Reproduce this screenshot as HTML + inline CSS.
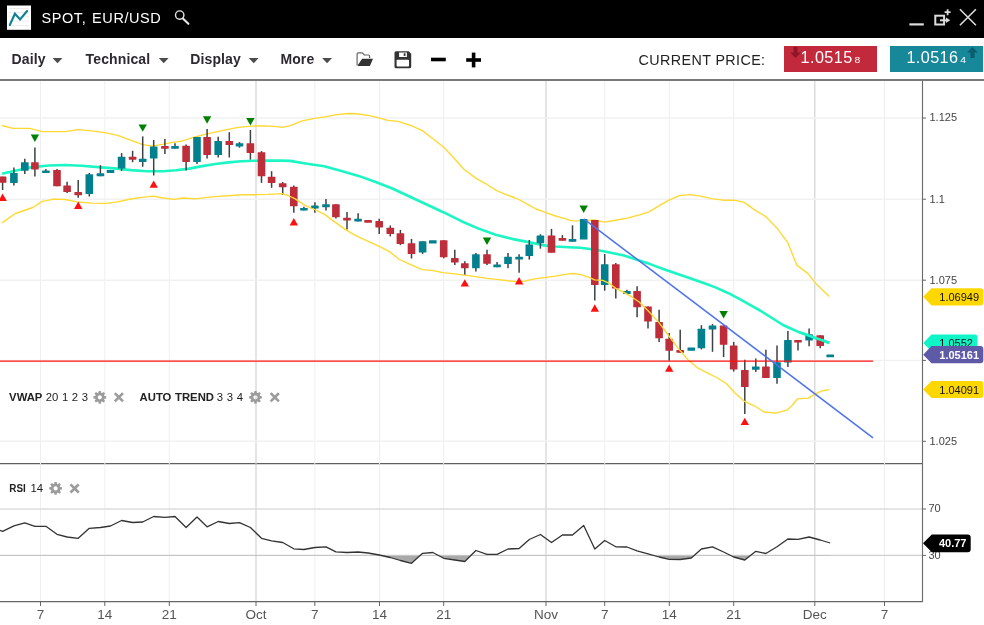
<!DOCTYPE html>
<html><head><meta charset="utf-8"><title>SPOT, EUR/USD</title>
<style>
html,body{margin:0;padding:0;background:#fff;}
body{width:984px;height:625px;overflow:hidden;position:relative;font-family:"Liberation Sans",sans-serif;}
#hdr{position:absolute;left:0;top:0;width:984px;height:37.5px;background:#000;}
#hdr .title{position:absolute;left:41.5px;top:10.1px;color:#fff;font-size:14.5px;letter-spacing:0.58px;word-spacing:1.2px;line-height:16px;white-space:nowrap;}
#tb{position:absolute;left:0;top:37.5px;width:984px;height:41px;background:#fff;}
.mi{position:absolute;top:13.2px;font-size:14px;letter-spacing:0.12px;font-weight:bold;color:#2e2830;line-height:17px;white-space:nowrap;}
.car{position:absolute;top:20px;width:10.8px;height:5.8px;background:#4c4c4c;clip-path:polygon(0 0,100% 0,50% 100%);}
.cp{position:absolute;left:638.6px;top:14.4px;font-size:14.3px;letter-spacing:0.4px;color:#222;line-height:17px;white-space:nowrap;}
.pb{position:absolute;top:8.2px;height:26.2px;color:#fff;font-size:16.2px;letter-spacing:0.42px;line-height:23px;white-space:nowrap;}
.pb small{display:inline-block;font-size:10.4px;letter-spacing:0;margin-left:1.9px;transform:scaleY(.84);transform-origin:50% 64%;}
svg text{font-family:"Liberation Sans",sans-serif;}
.ax{font-size:11px;fill:#444;}
.xl{font-size:13.5px;fill:#555;}
.tg{font-size:11px;}
.lg{font-size:11.3px;fill:#222;word-spacing:0.5px;}
</style></head><body>
<div id="hdr">
<svg width="984" height="38" style="position:absolute;left:0;top:0">
<rect x="7" y="5.5" width="24" height="24.3" fill="#fff"/>
<g stroke="#ececec" stroke-width="1"><line x1="9" y1="8.5" x2="29" y2="8.5"/><line x1="9" y1="12.6" x2="29" y2="12.6"/><line x1="9" y1="16.8" x2="29" y2="16.8"/><line x1="9" y1="21" x2="29" y2="21"/><line x1="9" y1="25.5" x2="29" y2="25.5"/></g>
<polyline points="9.8,25 14.9,13.7 20.1,19.5 27.1,11" fill="none" stroke="#0e8193" stroke-width="2.1" stroke-linecap="round" stroke-linejoin="miter"/>
<g fill="none" stroke="#e6e6e6"><circle cx="179.7" cy="15.1" r="4.2" stroke-width="1.4"/><line x1="182.9" y1="18.4" x2="188.4" y2="23.8" stroke-width="2.1" stroke-linecap="round"/></g>
<line x1="909.4" y1="24.4" x2="923.8" y2="24.4" stroke="#ddd" stroke-width="2.2"/>
<g fill="none" stroke="#ddd"><rect x="935.3" y="15.7" width="8.8" height="8.8" stroke-width="2"/><path d="M940,20.3 H947" stroke-width="2"/><path d="M946,17.6 L950.2,20.3 L946,23 Z" fill="#ddd" stroke="none"/><path d="M947.6,9.2 V15.2 M944.6,12.2 H950.6" stroke-width="1.8"/></g>
<path d="M959.9,9.3 L975.9,25.3 M975.9,9.3 L959.9,25.3" stroke="#ddd" stroke-width="1.6" fill="none"/>
</svg>
<div class="title">SPOT, EUR/USD</div>
</div>
<div id="tb">
<div class="mi" style="left:11.6px">Daily</div><div class="car" style="left:52.1px"></div>
<div class="mi" style="left:85.6px">Technical</div><div class="car" style="left:158.3px"></div>
<div class="mi" style="left:190.3px">Display</div><div class="car" style="left:248.3px"></div>
<div class="mi" style="left:280.4px">More</div><div class="car" style="left:321.7px"></div>
<svg width="140" height="42" style="position:absolute;left:350px;top:0" viewBox="350 37.5 140 42">
<path d="M357.1,65 V53.6 Q357.1,52.3 358.4,52.3 H362.4 L364.4,54.5 H368.4 Q369.6,54.5 369.6,55.7 V57.4" fill="none" stroke="#666" stroke-width="1.2" stroke-linejoin="round"/>
<path d="M362.1,58.2 H373 L369.9,65.4 H358.4 Q357.4,65.4 357.9,64.4 Z" fill="#333"/>
<path d="M396,50.7 H408.7 L411.2,53.2 V66.3 Q411.2,67.8 409.7,67.8 H396 Q394.5,67.8 394.5,66.3 V52.2 Q394.5,50.7 396,50.7 Z" fill="#333"/>
<rect x="399.1" y="52" width="7.8" height="4.5" fill="#fff"/><rect x="403.7" y="52.8" width="1.8" height="2.6" fill="#333"/>
<rect x="396.6" y="59.2" width="12.4" height="6.8" rx="0.8" fill="#fff"/>
<rect x="431" y="57.2" width="14.8" height="3.6" fill="#000"/>
<rect x="466.2" y="57.7" width="14.8" height="3.6" fill="#000"/><rect x="471.8" y="52.1" width="3.6" height="14.8" fill="#000"/>
</svg>
<div class="cp">CURRENT PRICE:</div>
<div class="pb" style="left:784px;width:93.2px;background:#c22a3c;"><span style="position:absolute;left:16.6px">1.0515<small>8</small></span>
<svg width="12" height="12" style="position:absolute;left:5.7px;top:1.1px"><path d="M3.5,0 H7.5 V5.4 H10.8 L5.5,10.9 L0.2,5.4 H3.5 Z" fill="#8e1626"/></svg></div>
<div class="pb" style="left:889.6px;width:93.3px;background:#17879a;"><span style="position:absolute;left:16.8px">1.0516<small>4</small></span>
<svg width="12" height="12" style="position:absolute;left:77.3px;top:1.3px"><path d="M3.5,11 H7.5 V5.6 H10.8 L5.5,0.1 L0.2,5.6 H3.5 Z" fill="#0b5d6b"/></svg></div>
</div>
<svg width="984" height="547" viewBox="0 78 984 547" style="position:absolute;left:0;top:78px">
<rect x="0" y="78" width="984" height="547" fill="#fff"/>
<rect x="0" y="79.2" width="984" height="1.6" fill="#5a5a5a"/>
<line x1="40.5" y1="81" x2="40.5" y2="601.5" stroke="#efefef" stroke-width="1.0"/>
<line x1="104.8" y1="81" x2="104.8" y2="601.5" stroke="#efefef" stroke-width="1.0"/>
<line x1="169.3" y1="81" x2="169.3" y2="601.5" stroke="#efefef" stroke-width="1.0"/>
<line x1="256.0" y1="81" x2="256.0" y2="601.5" stroke="#d2d2d2" stroke-width="1.2"/>
<line x1="314.8" y1="81" x2="314.8" y2="601.5" stroke="#efefef" stroke-width="1.0"/>
<line x1="379.5" y1="81" x2="379.5" y2="601.5" stroke="#efefef" stroke-width="1.0"/>
<line x1="443.7" y1="81" x2="443.7" y2="601.5" stroke="#efefef" stroke-width="1.0"/>
<line x1="546.0" y1="81" x2="546.0" y2="601.5" stroke="#d2d2d2" stroke-width="1.2"/>
<line x1="604.7" y1="81" x2="604.7" y2="601.5" stroke="#efefef" stroke-width="1.0"/>
<line x1="669.3" y1="81" x2="669.3" y2="601.5" stroke="#efefef" stroke-width="1.0"/>
<line x1="733.7" y1="81" x2="733.7" y2="601.5" stroke="#efefef" stroke-width="1.0"/>
<line x1="814.8" y1="81" x2="814.8" y2="601.5" stroke="#d2d2d2" stroke-width="1.2"/>
<line x1="884.5" y1="81" x2="884.5" y2="601.5" stroke="#efefef" stroke-width="1.0"/>
<line x1="0" y1="118.0" x2="922" y2="118.0" stroke="#f1f1f1" stroke-width="1.4"/>
<line x1="0" y1="199.2" x2="922" y2="199.2" stroke="#f1f1f1" stroke-width="1.4"/>
<line x1="0" y1="280.2" x2="922" y2="280.2" stroke="#f1f1f1" stroke-width="1.4"/>
<line x1="0" y1="360.4" x2="922" y2="360.4" stroke="#f1f1f1" stroke-width="1.4"/>
<line x1="0" y1="441.3" x2="922" y2="441.3" stroke="#f1f1f1" stroke-width="1.4"/>
<line x1="0" y1="509" x2="922" y2="509" stroke="#dcdcdc" stroke-width="1.5"/>
<line x1="0" y1="555.4" x2="922" y2="555.4" stroke="#cfcfcf" stroke-width="1.3"/>
<polyline points="2.0,125.5 13.0,128.4 29.4,128.4 42.4,131.6 65.3,131.6 77.6,129.6 91.4,130.9 106.1,132.9 117.6,135.3 130.6,140.2 142.0,144.3 151.8,146.2 159.8,144.9 169.6,142.8 182.7,140.8 192.4,137.6 203.9,134.6 215.3,132.2 226.7,129.7 238.2,127.4 251.2,126.1 264.3,125.8 274.1,126.4 282.2,127.4 290.4,125.7 302.2,120.8 314.5,118.4 326.7,116.7 336.5,114.7 348.8,113.5 358.6,114.0 370.8,115.9 380.6,118.4 388.0,120.3 397.8,121.3 410.0,125.2 422.3,130.6 432.0,138.0 444.3,147.8 454.1,158.3 463.9,169.3 476.1,178.4 485.9,183.8 495.7,190.1 505.5,194.3 515.3,198.0 519.8,200.0 528.0,204.6 536.1,209.0 545.9,212.7 555.7,216.0 563.9,218.3 572.0,220.9 581.8,220.9 588.0,220.3 594.6,220.0 604.4,222.1 614.2,220.5 627.2,218.1 640.3,214.6 649.0,211.8 660.2,205.1 669.1,200.2 679.2,195.7 690.4,194.6 700.5,196.1 711.7,198.6 722.9,200.2 734.1,200.2 744.2,202.4 754.2,209.6 765.4,216.3 776.6,227.7 787.8,242.7 796.8,265.1 808.0,273.6 817.0,284.8 829.3,296.5" fill="none" stroke="#ffd830" stroke-width="1.35" stroke-linejoin="round"/>
<polyline points="2.0,173.7 16.3,170.4 32.7,167.1 49.0,165.5 65.3,165.0 81.6,165.8 98.0,167.1 114.3,168.4 130.6,170.1 147.0,171.2 163.0,171.3 176.1,170.2 189.2,168.6 202.2,166.1 215.3,164.0 228.4,162.4 241.4,161.2 254.5,160.7 267.6,160.6 280.6,160.6 290.0,160.9 307.1,163.7 324.3,166.3 341.4,171.0 358.6,175.9 375.7,182.0 392.9,188.7 410.0,196.7 427.2,204.8 444.3,212.7 461.4,221.2 478.6,228.6 495.7,234.7 512.9,239.1 530.0,242.4 544.3,245.4 555.7,246.5 568.8,247.3 580.2,247.8 588.1,248.8 599.5,250.4 610.9,252.7 624.0,255.6 637.0,259.7 650.1,264.1 663.2,269.0 676.2,273.6 689.3,278.0 702.3,282.6 715.4,287.4 728.5,293.2 742.0,300.4 753.5,306.9 760.0,310.5 774.4,319.5 782.9,325.0 790.2,328.3 798.4,331.9 806.5,334.8 814.7,337.7 822.9,340.5 829.4,343.0" fill="none" stroke="#1cf5c4" stroke-width="2.6" stroke-linejoin="round"/>
<line x1="2.6" y1="176.6" x2="2.6" y2="190.0" stroke="#3c4245" stroke-width="1.5"/>
<rect x="-1.2" y="176.6" width="7.6" height="6.2" rx="0.5" fill="#be2d3a"/>
<line x1="13.9" y1="167.6" x2="13.9" y2="185.4" stroke="#3c4245" stroke-width="1.5"/>
<rect x="10.1" y="172.9" width="7.6" height="10.1" rx="0.5" fill="#03808e"/>
<line x1="24.8" y1="158.7" x2="24.8" y2="174.0" stroke="#3c4245" stroke-width="1.5"/>
<rect x="21.0" y="162.2" width="7.6" height="8.5" rx="0.5" fill="#03808e"/>
<line x1="34.9" y1="147.6" x2="34.9" y2="176.4" stroke="#3c4245" stroke-width="1.5"/>
<rect x="31.1" y="162.2" width="7.6" height="7.4" rx="0.5" fill="#be2d3a"/>
<line x1="45.9" y1="169.1" x2="45.9" y2="173.0" stroke="#3c4245" stroke-width="1.5"/>
<rect x="42.1" y="170.4" width="7.6" height="2.6" rx="0.5" fill="#03808e"/>
<line x1="57.0" y1="169.1" x2="57.0" y2="186.2" stroke="#3c4245" stroke-width="1.5"/>
<rect x="53.2" y="170.1" width="7.6" height="16.1" rx="0.5" fill="#be2d3a"/>
<line x1="67.1" y1="181.8" x2="67.1" y2="193.0" stroke="#3c4245" stroke-width="1.5"/>
<rect x="63.3" y="185.4" width="7.6" height="6.6" rx="0.5" fill="#be2d3a"/>
<line x1="78.2" y1="179.9" x2="78.2" y2="197.8" stroke="#3c4245" stroke-width="1.5"/>
<rect x="74.4" y="192.1" width="7.6" height="3.1" rx="0.5" fill="#be2d3a"/>
<line x1="89.3" y1="173.0" x2="89.3" y2="196.5" stroke="#3c4245" stroke-width="1.5"/>
<rect x="85.5" y="174.3" width="7.6" height="19.8" rx="0.5" fill="#03808e"/>
<line x1="100.4" y1="165.2" x2="100.4" y2="176.3" stroke="#3c4245" stroke-width="1.5"/>
<rect x="96.6" y="173.3" width="7.6" height="3.0" rx="0.5" fill="#03808e"/>
<rect x="106.7" y="170.1" width="7.6" height="2.9" rx="0.5" fill="#03808e"/>
<line x1="121.6" y1="153.1" x2="121.6" y2="170.9" stroke="#3c4245" stroke-width="1.5"/>
<rect x="117.8" y="156.7" width="7.6" height="11.7" rx="0.5" fill="#03808e"/>
<line x1="132.6" y1="150.8" x2="132.6" y2="162.2" stroke="#3c4245" stroke-width="1.5"/>
<rect x="128.8" y="156.7" width="7.6" height="3.1" rx="0.5" fill="#be2d3a"/>
<line x1="142.7" y1="136.4" x2="142.7" y2="166.7" stroke="#3c4245" stroke-width="1.5"/>
<rect x="138.9" y="158.8" width="7.6" height="3.1" rx="0.5" fill="#03808e"/>
<line x1="153.7" y1="140.0" x2="153.7" y2="175.5" stroke="#3c4245" stroke-width="1.5"/>
<rect x="149.9" y="146.4" width="7.6" height="12.1" rx="0.5" fill="#03808e"/>
<line x1="164.9" y1="138.9" x2="164.9" y2="153.9" stroke="#3c4245" stroke-width="1.5"/>
<rect x="161.1" y="145.9" width="7.6" height="2.8" rx="0.5" fill="#be2d3a"/>
<line x1="175.0" y1="143.3" x2="175.0" y2="148.7" stroke="#3c4245" stroke-width="1.5"/>
<rect x="171.2" y="145.9" width="7.6" height="2.8" rx="0.5" fill="#03808e"/>
<line x1="186.1" y1="144.4" x2="186.1" y2="170.5" stroke="#3c4245" stroke-width="1.5"/>
<rect x="182.3" y="145.7" width="7.6" height="16.3" rx="0.5" fill="#be2d3a"/>
<line x1="197.0" y1="136.9" x2="197.0" y2="164.0" stroke="#3c4245" stroke-width="1.5"/>
<rect x="193.2" y="136.9" width="7.6" height="25.1" rx="0.5" fill="#03808e"/>
<line x1="207.1" y1="129.1" x2="207.1" y2="158.4" stroke="#3c4245" stroke-width="1.5"/>
<rect x="203.3" y="136.9" width="7.6" height="18.1" rx="0.5" fill="#be2d3a"/>
<line x1="218.2" y1="136.7" x2="218.2" y2="157.5" stroke="#3c4245" stroke-width="1.5"/>
<rect x="214.4" y="141.1" width="7.6" height="13.9" rx="0.5" fill="#03808e"/>
<line x1="229.3" y1="132.2" x2="229.3" y2="157.5" stroke="#3c4245" stroke-width="1.5"/>
<rect x="225.5" y="141.1" width="7.6" height="4.0" rx="0.5" fill="#be2d3a"/>
<line x1="239.5" y1="142.1" x2="239.5" y2="147.7" stroke="#3c4245" stroke-width="1.5"/>
<rect x="235.7" y="143.3" width="7.6" height="3.1" rx="0.5" fill="#03808e"/>
<line x1="250.4" y1="130.0" x2="250.4" y2="159.6" stroke="#3c4245" stroke-width="1.5"/>
<rect x="246.6" y="143.3" width="7.6" height="9.8" rx="0.5" fill="#be2d3a"/>
<line x1="261.5" y1="151.1" x2="261.5" y2="182.9" stroke="#3c4245" stroke-width="1.5"/>
<rect x="257.7" y="152.2" width="7.6" height="24.0" rx="0.5" fill="#be2d3a"/>
<line x1="271.6" y1="171.2" x2="271.6" y2="187.8" stroke="#3c4245" stroke-width="1.5"/>
<rect x="267.8" y="176.7" width="7.6" height="6.2" rx="0.5" fill="#be2d3a"/>
<line x1="282.7" y1="182.1" x2="282.7" y2="195.0" stroke="#3c4245" stroke-width="1.5"/>
<rect x="278.9" y="183.3" width="7.6" height="4.0" rx="0.5" fill="#be2d3a"/>
<line x1="293.8" y1="185.5" x2="293.8" y2="212.8" stroke="#3c4245" stroke-width="1.5"/>
<rect x="290.0" y="186.7" width="7.6" height="19.5" rx="0.5" fill="#be2d3a"/>
<line x1="303.9" y1="206.7" x2="303.9" y2="210.5" stroke="#3c4245" stroke-width="1.5"/>
<rect x="300.1" y="207.9" width="7.6" height="2.6" rx="0.5" fill="#03808e"/>
<line x1="314.9" y1="202.2" x2="314.9" y2="212.8" stroke="#3c4245" stroke-width="1.5"/>
<rect x="311.1" y="205.6" width="7.6" height="2.9" rx="0.5" fill="#03808e"/>
<line x1="326.0" y1="199.1" x2="326.0" y2="210.5" stroke="#3c4245" stroke-width="1.5"/>
<rect x="322.2" y="204.3" width="7.6" height="2.9" rx="0.5" fill="#03808e"/>
<line x1="335.9" y1="204.3" x2="335.9" y2="218.5" stroke="#3c4245" stroke-width="1.5"/>
<rect x="332.1" y="204.3" width="7.6" height="13.0" rx="0.5" fill="#be2d3a"/>
<line x1="347.0" y1="212.1" x2="347.0" y2="229.6" stroke="#3c4245" stroke-width="1.5"/>
<rect x="343.2" y="217.7" width="7.6" height="2.9" rx="0.5" fill="#be2d3a"/>
<line x1="358.1" y1="213.3" x2="358.1" y2="221.6" stroke="#3c4245" stroke-width="1.5"/>
<rect x="354.3" y="218.8" width="7.6" height="2.8" rx="0.5" fill="#03808e"/>
<rect x="364.3" y="220.0" width="7.6" height="2.7" rx="0.5" fill="#be2d3a"/>
<line x1="379.2" y1="218.7" x2="379.2" y2="234.0" stroke="#3c4245" stroke-width="1.5"/>
<rect x="375.4" y="221.1" width="7.6" height="6.4" rx="0.5" fill="#be2d3a"/>
<line x1="390.3" y1="225.5" x2="390.3" y2="236.4" stroke="#3c4245" stroke-width="1.5"/>
<rect x="386.5" y="227.8" width="7.6" height="6.2" rx="0.5" fill="#be2d3a"/>
<line x1="400.4" y1="229.9" x2="400.4" y2="245.1" stroke="#3c4245" stroke-width="1.5"/>
<rect x="396.6" y="233.3" width="7.6" height="10.7" rx="0.5" fill="#be2d3a"/>
<line x1="411.5" y1="238.9" x2="411.5" y2="258.5" stroke="#3c4245" stroke-width="1.5"/>
<rect x="407.7" y="243.3" width="7.6" height="10.6" rx="0.5" fill="#be2d3a"/>
<line x1="422.6" y1="241.2" x2="422.6" y2="253.9" stroke="#3c4245" stroke-width="1.5"/>
<rect x="418.8" y="241.2" width="7.6" height="11.4" rx="0.5" fill="#03808e"/>
<rect x="429.0" y="240.2" width="7.6" height="3.4" rx="0.5" fill="#03808e"/>
<line x1="443.7" y1="240.2" x2="443.7" y2="258.4" stroke="#3c4245" stroke-width="1.5"/>
<rect x="439.9" y="240.2" width="7.6" height="17.0" rx="0.5" fill="#be2d3a"/>
<line x1="454.8" y1="249.8" x2="454.8" y2="265.0" stroke="#3c4245" stroke-width="1.5"/>
<rect x="451.0" y="258.0" width="7.6" height="4.5" rx="0.5" fill="#be2d3a"/>
<line x1="464.8" y1="261.2" x2="464.8" y2="275.1" stroke="#3c4245" stroke-width="1.5"/>
<rect x="461.0" y="263.3" width="7.6" height="4.9" rx="0.5" fill="#be2d3a"/>
<line x1="475.9" y1="253.1" x2="475.9" y2="271.5" stroke="#3c4245" stroke-width="1.5"/>
<rect x="472.1" y="254.2" width="7.6" height="14.0" rx="0.5" fill="#03808e"/>
<line x1="487.0" y1="249.8" x2="487.0" y2="265.0" stroke="#3c4245" stroke-width="1.5"/>
<rect x="483.2" y="254.2" width="7.6" height="9.5" rx="0.5" fill="#be2d3a"/>
<line x1="497.1" y1="262.0" x2="497.1" y2="267.3" stroke="#3c4245" stroke-width="1.5"/>
<rect x="493.3" y="264.5" width="7.6" height="2.8" rx="0.5" fill="#03808e"/>
<line x1="508.0" y1="253.1" x2="508.0" y2="268.2" stroke="#3c4245" stroke-width="1.5"/>
<rect x="504.2" y="256.7" width="7.6" height="7.3" rx="0.5" fill="#03808e"/>
<line x1="519.1" y1="254.2" x2="519.1" y2="272.7" stroke="#3c4245" stroke-width="1.5"/>
<rect x="515.3" y="256.7" width="7.6" height="2.9" rx="0.5" fill="#03808e"/>
<line x1="529.3" y1="240.0" x2="529.3" y2="259.6" stroke="#3c4245" stroke-width="1.5"/>
<rect x="525.5" y="244.4" width="7.6" height="11.6" rx="0.5" fill="#03808e"/>
<line x1="540.4" y1="234.3" x2="540.4" y2="248.7" stroke="#3c4245" stroke-width="1.5"/>
<rect x="536.6" y="235.6" width="7.6" height="7.7" rx="0.5" fill="#03808e"/>
<line x1="551.5" y1="228.9" x2="551.5" y2="252.7" stroke="#3c4245" stroke-width="1.5"/>
<rect x="547.7" y="235.6" width="7.6" height="17.1" rx="0.5" fill="#be2d3a"/>
<line x1="562.4" y1="235.1" x2="562.4" y2="240.7" stroke="#3c4245" stroke-width="1.5"/>
<rect x="558.6" y="237.9" width="7.6" height="2.8" rx="0.5" fill="#be2d3a"/>
<line x1="572.5" y1="225.3" x2="572.5" y2="241.8" stroke="#3c4245" stroke-width="1.5"/>
<rect x="568.7" y="239.0" width="7.6" height="2.8" rx="0.5" fill="#03808e"/>
<rect x="579.9" y="219.0" width="7.6" height="20.6" rx="0.5" fill="#03808e"/>
<line x1="594.8" y1="220.0" x2="594.8" y2="300.5" stroke="#3c4245" stroke-width="1.5"/>
<rect x="591.0" y="220.0" width="7.6" height="65.0" rx="0.5" fill="#be2d3a"/>
<line x1="604.7" y1="254.0" x2="604.7" y2="290.7" stroke="#3c4245" stroke-width="1.5"/>
<rect x="600.9" y="264.3" width="7.6" height="20.7" rx="0.5" fill="#03808e"/>
<line x1="615.8" y1="263.0" x2="615.8" y2="298.4" stroke="#3c4245" stroke-width="1.5"/>
<rect x="612.0" y="264.3" width="7.6" height="24.1" rx="0.5" fill="#be2d3a"/>
<line x1="626.9" y1="289.8" x2="626.9" y2="294.0" stroke="#3c4245" stroke-width="1.5"/>
<rect x="623.1" y="291.0" width="7.6" height="3.0" rx="0.5" fill="#03808e"/>
<line x1="637.1" y1="286.2" x2="637.1" y2="317.2" stroke="#3c4245" stroke-width="1.5"/>
<rect x="633.3" y="291.1" width="7.6" height="16.2" rx="0.5" fill="#be2d3a"/>
<line x1="648.0" y1="306.4" x2="648.0" y2="328.5" stroke="#3c4245" stroke-width="1.5"/>
<rect x="644.2" y="306.4" width="7.6" height="15.2" rx="0.5" fill="#be2d3a"/>
<line x1="659.1" y1="309.7" x2="659.1" y2="342.0" stroke="#3c4245" stroke-width="1.5"/>
<rect x="655.3" y="322.0" width="7.6" height="16.3" rx="0.5" fill="#be2d3a"/>
<line x1="669.2" y1="333.1" x2="669.2" y2="360.8" stroke="#3c4245" stroke-width="1.5"/>
<rect x="665.4" y="338.8" width="7.6" height="11.9" rx="0.5" fill="#be2d3a"/>
<line x1="680.2" y1="329.8" x2="680.2" y2="352.8" stroke="#3c4245" stroke-width="1.5"/>
<rect x="676.4" y="349.9" width="7.6" height="2.9" rx="0.5" fill="#be2d3a"/>
<rect x="687.5" y="347.4" width="7.6" height="3.3" rx="0.5" fill="#03808e"/>
<line x1="701.4" y1="325.2" x2="701.4" y2="349.4" stroke="#3c4245" stroke-width="1.5"/>
<rect x="697.6" y="328.7" width="7.6" height="19.5" rx="0.5" fill="#03808e"/>
<line x1="712.5" y1="324.1" x2="712.5" y2="351.8" stroke="#3c4245" stroke-width="1.5"/>
<rect x="708.7" y="325.6" width="7.6" height="3.9" rx="0.5" fill="#03808e"/>
<line x1="723.6" y1="325.6" x2="723.6" y2="357.1" stroke="#3c4245" stroke-width="1.5"/>
<rect x="719.8" y="325.6" width="7.6" height="19.2" rx="0.5" fill="#be2d3a"/>
<line x1="733.7" y1="341.9" x2="733.7" y2="371.6" stroke="#3c4245" stroke-width="1.5"/>
<rect x="729.9" y="345.4" width="7.6" height="24.0" rx="0.5" fill="#be2d3a"/>
<line x1="744.8" y1="359.8" x2="744.8" y2="414.0" stroke="#3c4245" stroke-width="1.5"/>
<rect x="741.0" y="369.9" width="7.6" height="17.1" rx="0.5" fill="#be2d3a"/>
<line x1="755.8" y1="358.6" x2="755.8" y2="371.9" stroke="#3c4245" stroke-width="1.5"/>
<rect x="752.0" y="366.6" width="7.6" height="3.1" rx="0.5" fill="#03808e"/>
<line x1="765.9" y1="349.8" x2="765.9" y2="378.1" stroke="#3c4245" stroke-width="1.5"/>
<rect x="762.1" y="366.6" width="7.6" height="11.5" rx="0.5" fill="#be2d3a"/>
<line x1="777.0" y1="345.4" x2="777.0" y2="383.8" stroke="#3c4245" stroke-width="1.5"/>
<rect x="773.2" y="362.2" width="7.6" height="15.9" rx="0.5" fill="#03808e"/>
<line x1="787.9" y1="331.0" x2="787.9" y2="367.1" stroke="#3c4245" stroke-width="1.5"/>
<rect x="784.1" y="340.0" width="7.6" height="22.6" rx="0.5" fill="#03808e"/>
<line x1="798.0" y1="340.0" x2="798.0" y2="350.6" stroke="#3c4245" stroke-width="1.5"/>
<rect x="794.2" y="340.0" width="7.6" height="2.6" rx="0.5" fill="#be2d3a"/>
<line x1="809.1" y1="328.6" x2="809.1" y2="346.2" stroke="#3c4245" stroke-width="1.5"/>
<rect x="805.3" y="334.3" width="7.6" height="6.2" rx="0.5" fill="#03808e"/>
<line x1="820.2" y1="335.3" x2="820.2" y2="348.3" stroke="#3c4245" stroke-width="1.5"/>
<rect x="816.4" y="335.3" width="7.6" height="10.6" rx="0.5" fill="#be2d3a"/>
<rect x="826.4" y="354.4" width="7.6" height="2.8" rx="0.5" fill="#03808e"/>
<polyline points="2.0,222.9 15.4,213.5 21.2,211.5 32.7,207.5 42.4,201.4 53.9,199.1 65.3,199.5 76.7,201.8 91.4,203.1 106.1,203.4 117.6,201.8 130.6,199.0 142.0,197.3 153.5,196.2 163.0,198.0 174.5,199.3 182.7,198.0 195.7,198.9 207.1,197.3 218.6,196.3 231.6,195.5 244.7,194.7 256.1,194.7 267.6,194.4 282.2,193.6 288.0,195.5 294.8,198.6 304.6,205.1 314.4,209.5 324.2,214.1 334.0,221.4 345.4,229.6 356.8,236.1 368.3,241.3 379.7,246.7 389.5,251.6 399.3,259.5 410.7,264.7 422.1,269.6 431.9,270.4 443.1,272.7 454.5,273.8 464.3,275.1 475.7,276.7 487.1,278.4 498.6,279.7 510.0,281.0 518.2,281.6 524.7,281.1 534.5,278.9 544.3,277.6 555.7,276.2 565.5,274.3 572.0,273.5 580.2,274.3 589.7,277.7 594.6,279.8 602.8,280.4 609.3,283.4 615.8,288.3 624.0,292.3 632.1,297.2 639.2,302.0 649.0,311.8 658.8,322.4 668.6,335.5 678.4,348.6 688.2,360.0 698.0,368.2 707.8,373.1 717.6,378.0 726.5,383.8 734.7,392.8 744.5,401.4 754.3,405.8 764.1,412.0 775.5,413.2 786.9,410.2 791.8,405.8 797.6,398.8 808.2,398.1 814.7,394.4 821.2,391.1 829.4,389.5" fill="none" stroke="#ffd830" stroke-width="1.35" stroke-linejoin="round"/>
<line x1="0" y1="361.1" x2="873" y2="361.1" stroke="#ff1212" stroke-width="1.2"/>
<polyline points="798.4,331.9 806.5,334.8 814.7,337.7 822.9,340.5 829.4,343.0" fill="none" stroke="#1cf5c4" stroke-width="2.6" stroke-linejoin="round"/>
<line x1="583.7" y1="218.9" x2="873" y2="437.8" stroke="#4f74ea" stroke-width="1.55"/>
<polygon points="30.7,134.5 39.1,134.5 34.9,141.9" fill="#008000"/>
<polygon points="138.5,124.4 146.9,124.4 142.7,131.8" fill="#008000"/>
<polygon points="202.9,116.3 211.3,116.3 207.1,123.7" fill="#008000"/>
<polygon points="246.2,118.0 254.6,118.0 250.4,125.4" fill="#008000"/>
<polygon points="482.8,237.6 491.2,237.6 487.0,245.0" fill="#008000"/>
<polygon points="579.5,205.5 587.9,205.5 583.7,212.9" fill="#008000"/>
<polygon points="719.4,311.0 727.8,311.0 723.6,318.4" fill="#008000"/>
<polygon points="2.6,193.6 6.8,201.0 -1.6,201.0" fill="#ff1010"/>
<polygon points="78.2,201.5 82.4,208.9 74.0,208.9" fill="#ff1010"/>
<polygon points="153.7,180.4 157.9,187.8 149.5,187.8" fill="#ff1010"/>
<polygon points="293.8,218.0 298.0,225.4 289.6,225.4" fill="#ff1010"/>
<polygon points="464.8,279.2 469.0,286.6 460.6,286.6" fill="#ff1010"/>
<polygon points="519.1,277.1 523.3,284.5 514.9,284.5" fill="#ff1010"/>
<polygon points="594.8,304.3 599.0,311.7 590.6,311.7" fill="#ff1010"/>
<polygon points="669.2,364.4 673.4,371.8 665.0,371.8" fill="#ff1010"/>
<polygon points="744.8,417.7 749.0,425.1 740.6,425.1" fill="#ff1010"/>
<clipPath id="b30"><rect x="0" y="555.4" width="922" height="46"/></clipPath>
<polygon points="-8.2,527.5 2.6,531.3 13.9,525.8 24.8,522.8 34.9,526.3 45.9,526.3 57.0,534.3 67.1,537.0 78.2,538.3 89.3,528.3 100.4,527.5 110.5,526.0 121.6,520.5 132.6,522.5 142.7,522.0 153.7,516.5 164.9,517.3 175.0,516.5 186.1,527.5 197.0,517.0 207.1,526.8 218.2,521.5 229.3,523.5 239.5,522.7 250.4,527.5 261.5,538.3 271.6,540.8 282.7,542.5 293.8,548.8 303.9,549.5 314.9,547.5 326.0,546.8 335.9,551.8 347.0,552.5 358.1,552.0 368.1,553.0 379.2,555.0 390.3,557.5 400.4,560.5 411.5,563.3 422.6,553.3 432.8,552.5 443.7,558.3 454.8,560.0 464.8,561.5 475.9,550.5 487.0,554.3 497.1,554.3 508.0,549.0 519.1,548.5 529.3,539.5 540.4,534.5 551.5,542.5 562.4,535.0 572.5,535.0 583.7,525.5 594.8,549.0 604.7,540.5 615.8,546.8 626.9,547.0 637.1,550.8 648.0,553.8 659.1,557.0 669.2,559.3 680.2,559.5 691.3,558.0 701.4,549.0 712.5,546.8 723.6,552.0 733.7,557.0 744.8,560.0 755.8,551.3 765.9,553.5 777.0,546.8 787.9,539.0 798.0,539.3 809.1,537.0 820.2,540.0 830.2,543.0 830.2,555.4 -8.2,555.4" fill="#a9a9a9" clip-path="url(#b30)"/>
<polyline points="-8.2,527.5 2.6,531.3 13.9,525.8 24.8,522.8 34.9,526.3 45.9,526.3 57.0,534.3 67.1,537.0 78.2,538.3 89.3,528.3 100.4,527.5 110.5,526.0 121.6,520.5 132.6,522.5 142.7,522.0 153.7,516.5 164.9,517.3 175.0,516.5 186.1,527.5 197.0,517.0 207.1,526.8 218.2,521.5 229.3,523.5 239.5,522.7 250.4,527.5 261.5,538.3 271.6,540.8 282.7,542.5 293.8,548.8 303.9,549.5 314.9,547.5 326.0,546.8 335.9,551.8 347.0,552.5 358.1,552.0 368.1,553.0 379.2,555.0 390.3,557.5 400.4,560.5 411.5,563.3 422.6,553.3 432.8,552.5 443.7,558.3 454.8,560.0 464.8,561.5 475.9,550.5 487.0,554.3 497.1,554.3 508.0,549.0 519.1,548.5 529.3,539.5 540.4,534.5 551.5,542.5 562.4,535.0 572.5,535.0 583.7,525.5 594.8,549.0 604.7,540.5 615.8,546.8 626.9,547.0 637.1,550.8 648.0,553.8 659.1,557.0 669.2,559.3 680.2,559.5 691.3,558.0 701.4,549.0 712.5,546.8 723.6,552.0 733.7,557.0 744.8,560.0 755.8,551.3 765.9,553.5 777.0,546.8 787.9,539.0 798.0,539.3 809.1,537.0 820.2,540.0 830.2,543.0" fill="none" stroke="#333" stroke-width="1.3" stroke-linejoin="round"/>
<line x1="0" y1="463.6" x2="922.5" y2="463.6" stroke="#606060" stroke-width="1.05"/>
<line x1="0" y1="601.6" x2="922.5" y2="601.6" stroke="#666" stroke-width="1.1"/>
<line x1="922.5" y1="81" x2="922.5" y2="602" stroke="#6c6c6c" stroke-width="1.15"/>
<line x1="40.5" y1="462.8" x2="40.5" y2="464.4" stroke="#efefef" stroke-width="1.0"/>
<line x1="104.8" y1="462.8" x2="104.8" y2="464.4" stroke="#efefef" stroke-width="1.0"/>
<line x1="169.3" y1="462.8" x2="169.3" y2="464.4" stroke="#efefef" stroke-width="1.0"/>
<line x1="256.0" y1="462.8" x2="256.0" y2="464.4" stroke="#d2d2d2" stroke-width="1.2"/>
<line x1="314.8" y1="462.8" x2="314.8" y2="464.4" stroke="#efefef" stroke-width="1.0"/>
<line x1="379.5" y1="462.8" x2="379.5" y2="464.4" stroke="#efefef" stroke-width="1.0"/>
<line x1="443.7" y1="462.8" x2="443.7" y2="464.4" stroke="#efefef" stroke-width="1.0"/>
<line x1="546.0" y1="462.8" x2="546.0" y2="464.4" stroke="#d2d2d2" stroke-width="1.2"/>
<line x1="604.7" y1="462.8" x2="604.7" y2="464.4" stroke="#efefef" stroke-width="1.0"/>
<line x1="669.3" y1="462.8" x2="669.3" y2="464.4" stroke="#efefef" stroke-width="1.0"/>
<line x1="733.7" y1="462.8" x2="733.7" y2="464.4" stroke="#efefef" stroke-width="1.0"/>
<line x1="814.8" y1="462.8" x2="814.8" y2="464.4" stroke="#d2d2d2" stroke-width="1.2"/>
<line x1="884.5" y1="462.8" x2="884.5" y2="464.4" stroke="#efefef" stroke-width="1.0"/>
<line x1="922.5" y1="118.0" x2="926" y2="118.0" stroke="#666" stroke-width="1"/>
<text x="929.5" y="121.3" class="ax">1.125</text>
<line x1="922.5" y1="199.2" x2="926" y2="199.2" stroke="#666" stroke-width="1"/>
<text x="929.5" y="202.5" class="ax">1.1</text>
<line x1="922.5" y1="280.2" x2="926" y2="280.2" stroke="#666" stroke-width="1"/>
<text x="929.5" y="283.5" class="ax">1.075</text>
<line x1="922.5" y1="360.4" x2="926" y2="360.4" stroke="#666" stroke-width="1"/>
<line x1="922.5" y1="441.3" x2="926" y2="441.3" stroke="#666" stroke-width="1"/>
<text x="929.5" y="444.6" class="ax">1.025</text>
<line x1="922.5" y1="509.0" x2="926" y2="509.0" stroke="#666" stroke-width="1"/>
<text x="928.4" y="512.3" class="ax">70</text>
<line x1="922.5" y1="555.4" x2="926" y2="555.4" stroke="#666" stroke-width="1"/>
<text x="928.4" y="558.7" class="ax">30</text>
<line x1="40.5" y1="601.6" x2="40.5" y2="606" stroke="#666" stroke-width="1"/>
<text x="40.5" y="619.4" class="xl" text-anchor="middle">7</text>
<line x1="104.8" y1="601.6" x2="104.8" y2="606" stroke="#666" stroke-width="1"/>
<text x="104.8" y="619.4" class="xl" text-anchor="middle">14</text>
<line x1="169.3" y1="601.6" x2="169.3" y2="606" stroke="#666" stroke-width="1"/>
<text x="169.3" y="619.4" class="xl" text-anchor="middle">21</text>
<line x1="256.0" y1="601.6" x2="256.0" y2="606" stroke="#666" stroke-width="1"/>
<text x="256.0" y="619.4" class="xl" text-anchor="middle">Oct</text>
<line x1="314.8" y1="601.6" x2="314.8" y2="606" stroke="#666" stroke-width="1"/>
<text x="314.8" y="619.4" class="xl" text-anchor="middle">7</text>
<line x1="379.5" y1="601.6" x2="379.5" y2="606" stroke="#666" stroke-width="1"/>
<text x="379.5" y="619.4" class="xl" text-anchor="middle">14</text>
<line x1="443.7" y1="601.6" x2="443.7" y2="606" stroke="#666" stroke-width="1"/>
<text x="443.7" y="619.4" class="xl" text-anchor="middle">21</text>
<line x1="546.0" y1="601.6" x2="546.0" y2="606" stroke="#666" stroke-width="1"/>
<text x="546.0" y="619.4" class="xl" text-anchor="middle">Nov</text>
<line x1="604.7" y1="601.6" x2="604.7" y2="606" stroke="#666" stroke-width="1"/>
<text x="604.7" y="619.4" class="xl" text-anchor="middle">7</text>
<line x1="669.3" y1="601.6" x2="669.3" y2="606" stroke="#666" stroke-width="1"/>
<text x="669.3" y="619.4" class="xl" text-anchor="middle">14</text>
<line x1="733.7" y1="601.6" x2="733.7" y2="606" stroke="#666" stroke-width="1"/>
<text x="733.7" y="619.4" class="xl" text-anchor="middle">21</text>
<line x1="814.8" y1="601.6" x2="814.8" y2="606" stroke="#666" stroke-width="1"/>
<text x="814.8" y="619.4" class="xl" text-anchor="middle">Dec</text>
<line x1="884.5" y1="601.6" x2="884.5" y2="606" stroke="#666" stroke-width="1"/>
<text x="884.5" y="619.4" class="xl" text-anchor="middle">7</text>
<path d="M923.2,296.8 L931.5,288.2 H980.3 Q983.3,288.2 983.3,291.2 V302.4 Q983.3,305.4 980.3,305.4 H931.5 Z" fill="#ffd700"/>
<text x="939.3" y="300.9" class="tg" fill="#111">1.06949</text>
<path d="M923.2,343.0 L931.5,334.4 H974.5 Q977.5,334.4 977.5,337.4 V348.6 Q977.5,351.6 974.5,351.6 H931.5 Z" fill="#10f5c8"/>
<text x="939.3" y="347.1" class="tg" fill="#111">1.0552</text>
<path d="M923.2,354.7 L931.5,346.1 H980.3 Q983.3,346.1 983.3,349.1 V360.3 Q983.3,363.3 980.3,363.3 H931.5 Z" fill="#5f5aa8"/>
<text x="939.3" y="358.8" class="tg" fill="#fff" font-weight="bold">1.05161</text>
<path d="M923.2,389.5 L931.5,380.9 H980.3 Q983.3,380.9 983.3,383.9 V395.1 Q983.3,398.1 980.3,398.1 H931.5 Z" fill="#ffd700"/>
<text x="939.3" y="393.6" class="tg" fill="#111">1.04091</text>
<path d="M923,543.2 L931.8,534.4 H967.7 Q970.7,534.4 970.7,537.4 V549.2 Q970.7,552.2 967.7,552.2 H931.8 Z" fill="#000"/>
<text x="938.9" y="547.4" class="tg" fill="#fff" font-weight="bold">40.77</text>
<text x="9.1" y="401.3" class="lg" font-weight="bold">VWAP</text><text x="45.7" y="401.3" class="lg">20 1 2 3</text>
<path d="M98.41,392.81 L98.70,390.89 L100.90,390.89 L101.19,392.81 L101.99,393.14 L103.55,391.99 L105.11,393.55 L103.96,395.11 L104.29,395.91 L106.21,396.20 L106.21,398.40 L104.29,398.69 L103.96,399.49 L105.11,401.05 L103.55,402.61 L101.99,401.46 L101.19,401.79 L100.90,403.71 L98.70,403.71 L98.41,401.79 L97.61,401.46 L96.05,402.61 L94.49,401.05 L95.64,399.49 L95.31,398.69 L93.39,398.40 L93.39,396.20 L95.31,395.91 L95.64,395.11 L94.49,393.55 L96.05,391.99 L97.61,393.14 Z M99.80,395.20 a2.1,2.1 0 1,0 0.01,0 Z" fill="#9b9b9b" fill-rule="evenodd"/>
<path d="M114.8,393.2 l8.2,8.2 M123.0,393.2 l-8.2,8.2" stroke="#9b9b9b" stroke-width="2.6" fill="none"/>
<text x="139.6" y="401.3" class="lg" font-weight="bold">AUTO TREND</text><text x="216.8" y="401.3" class="lg">3 3 4</text>
<path d="M254.11,392.81 L254.40,390.89 L256.60,390.89 L256.89,392.81 L257.69,393.14 L259.25,391.99 L260.81,393.55 L259.66,395.11 L259.99,395.91 L261.91,396.20 L261.91,398.40 L259.99,398.69 L259.66,399.49 L260.81,401.05 L259.25,402.61 L257.69,401.46 L256.89,401.79 L256.60,403.71 L254.40,403.71 L254.11,401.79 L253.31,401.46 L251.75,402.61 L250.19,401.05 L251.34,399.49 L251.01,398.69 L249.09,398.40 L249.09,396.20 L251.01,395.91 L251.34,395.11 L250.19,393.55 L251.75,391.99 L253.31,393.14 Z M255.50,395.20 a2.1,2.1 0 1,0 0.01,0 Z" fill="#9b9b9b" fill-rule="evenodd"/>
<path d="M270.7,393.2 l8.2,8.2 M278.9,393.2 l-8.2,8.2" stroke="#9b9b9b" stroke-width="2.6" fill="none"/>
<text x="9.3" y="492.4" class="lg" font-weight="bold" textLength="16.5" lengthAdjust="spacingAndGlyphs">RSI</text><text x="30.4" y="492.4" class="lg">14</text>
<path d="M54.21,483.91 L54.50,481.99 L56.70,481.99 L56.99,483.91 L57.79,484.24 L59.35,483.09 L60.91,484.65 L59.76,486.21 L60.09,487.01 L62.01,487.30 L62.01,489.50 L60.09,489.79 L59.76,490.59 L60.91,492.15 L59.35,493.71 L57.79,492.56 L56.99,492.89 L56.70,494.81 L54.50,494.81 L54.21,492.89 L53.41,492.56 L51.85,493.71 L50.29,492.15 L51.44,490.59 L51.11,489.79 L49.19,489.50 L49.19,487.30 L51.11,487.01 L51.44,486.21 L50.29,484.65 L51.85,483.09 L53.41,484.24 Z M55.60,486.30 a2.1,2.1 0 1,0 0.01,0 Z" fill="#9b9b9b" fill-rule="evenodd"/>
<path d="M70.5,484.3 l8.2,8.2 M78.7,484.3 l-8.2,8.2" stroke="#9b9b9b" stroke-width="2.6" fill="none"/>
</svg>
</body></html>
